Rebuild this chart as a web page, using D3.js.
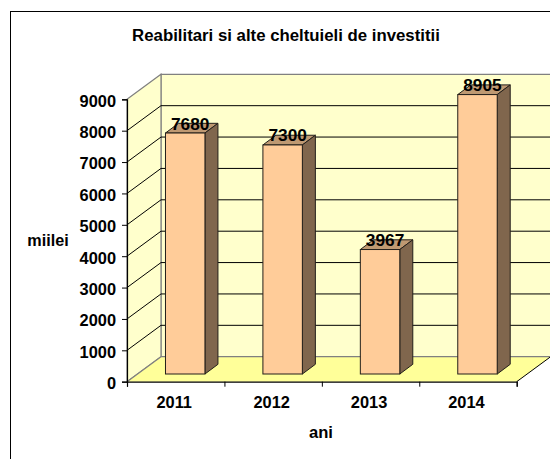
<!DOCTYPE html>
<html>
<head>
<meta charset="utf-8">
<script src="https://cdn.jsdelivr.net/npm/d3@7"></script>
<style>
  html, body { margin: 0; padding: 0; background: #fff; overflow: hidden; }
  text { font-family: "Liberation Sans", Arial, sans-serif; font-weight: bold; fill: #000; }
</style>
</head>
<body>
<div id="chart"></div>
<script>
const years = ["2011", "2012", "2013", "2014"];
const values = [7680, 7300, 3967, 8905];
const yTicks = [0, 1000, 2000, 3000, 4000, 5000, 6000, 7000, 8000, 9000];

const width = 550;
const height = 459;

const x0 = 127;
const x1 = 516.7;
const yBase = 381.7;
const yTop = 99.3;
const depthX = 34;
const depthY = -25;

// bars stand a bit inside the floor
const barShiftX = 10;
const barShiftY = -7.7;
const barDepthX = 13;
const barDepthY = -9.7;

const x = d3.scaleBand().domain(years).range([x0, x1]).paddingInner(0).paddingOuter(0);
const y = d3.scaleLinear().domain([0, 9000]).range([yBase, yTop]);
const barWidth = x.bandwidth() * 0.405;

const svg = d3
  .select("#chart")
  .append("svg")
  .attr("width", width)
  .attr("height", height)
  .style("display", "block");

svg
  .append("rect")
  .attr("x", 10.5)
  .attr("y", 11.5)
  .attr("width", width)
  .attr("height", height)
  .attr("fill", "#fff")
  .attr("stroke", "#000");

const pts = (arr) => arr.map((p) => p.join(",")).join(" ");

// back wall
svg
  .append("polygon")
  .attr("points", pts([
    [x0 + depthX, yTop + depthY],
    [x1 + depthX, yTop + depthY],
    [x1 + depthX, yBase + depthY],
    [x0 + depthX, yBase + depthY],
  ]))
  .attr("fill", "#ffffcc")
  .attr("stroke", "#808080")
  .attr("stroke-width", 1.2);

// side wall
svg
  .append("polygon")
  .attr("points", pts([
    [x0, yTop],
    [x0 + depthX, yTop + depthY],
    [x0 + depthX, yBase + depthY],
    [x0, yBase],
  ]))
  .attr("fill", "#ffffcc")
  .attr("stroke", "#808080")
  .attr("stroke-width", 1.2);

// floor
svg
  .append("polygon")
  .attr("points", pts([
    [x0, yBase],
    [x0 + depthX, yBase + depthY],
    [x1 + depthX, yBase + depthY],
    [x1, yBase],
  ]))
  .attr("fill", "#ffff99");

svg
  .append("line")
  .attr("x1", x0)
  .attr("y1", yBase)
  .attr("x2", x0 + depthX)
  .attr("y2", yBase + depthY)
  .attr("stroke", "#808080")
  .attr("stroke-width", 1.2);
svg
  .append("line")
  .attr("x1", x0 + depthX)
  .attr("y1", yBase + depthY)
  .attr("x2", x1 + depthX)
  .attr("y2", yBase + depthY)
  .attr("stroke", "#808080")
  .attr("stroke-width", 1.2);
svg
  .append("line")
  .attr("x1", x1)
  .attr("y1", yBase)
  .attr("x2", x1 + depthX)
  .attr("y2", yBase + depthY)
  .attr("stroke", "#000");

// gridlines on both walls
const grid = svg.append("g").attr("fill", "none").attr("stroke", "#000").attr("stroke-width", 1);
yTicks.slice(1, -1).forEach((t) => {
  grid
    .append("polyline")
    .attr("points", pts([
      [x0, y(t)],
      [x0 + depthX, y(t) + depthY],
      [x1 + depthX, y(t) + depthY],
    ]));
});

// bars
const bars = svg
  .append("g")
  .selectAll("g")
  .data(years.map((year, i) => ({ year, value: values[i] })))
  .join("g");

const barLeft = (d) => x(d.year) + (x.bandwidth() - barWidth) / 2 + barShiftX - 0.5;
const barTop = (d) => y(d.value) + barShiftY;
const barBottom = yBase + barShiftY;

bars
  .append("polygon")
  .attr("points", (d) => pts([
    [barLeft(d), barTop(d)],
    [barLeft(d) + barDepthX, barTop(d) + barDepthY],
    [barLeft(d) + barWidth + barDepthX, barTop(d) + barDepthY],
    [barLeft(d) + barWidth, barTop(d)],
  ]))
  .attr("fill", "#bf9972")
  .attr("stroke", "#231f1a")
  .attr("stroke-width", 1);

bars
  .append("polygon")
  .attr("points", (d) => pts([
    [barLeft(d) + barWidth, barTop(d)],
    [barLeft(d) + barWidth + barDepthX, barTop(d) + barDepthY],
    [barLeft(d) + barWidth + barDepthX, barBottom + barDepthY],
    [barLeft(d) + barWidth, barBottom],
  ]))
  .attr("fill", "#80664d")
  .attr("stroke", "#231f1a")
  .attr("stroke-width", 1);

bars
  .append("rect")
  .attr("x", barLeft)
  .attr("y", barTop)
  .attr("width", barWidth)
  .attr("height", (d) => barBottom - barTop(d))
  .attr("fill", "#ffcc99")
  .attr("stroke", "#231f1a")
  .attr("stroke-width", 1);

bars
  .append("text")
  .attr("x", (d) => barLeft(d) + barWidth / 2 + 5)
  .attr("y", (d) => barTop(d) - 3.5)
  .attr("text-anchor", "middle")
  .attr("font-size", 17.3)
  .text((d) => d.value);

// axes
const yAxis = svg
  .append("g")
  .attr("transform", `translate(${x0},0)`)
  .call(d3.axisLeft(y).tickValues(yTicks).tickSize(5).tickPadding(6).tickFormat(d3.format("d")));
yAxis.selectAll("text").attr("dy", "0.42em");

const edges = d3.scaleLinear().domain([0, years.length]).range([x0, x1]);
const xTicks = svg
  .append("g")
  .attr("transform", `translate(0,${yBase})`)
  .call(d3.axisBottom(edges).tickValues(d3.range(years.length + 1)).tickSize(5).tickFormat(""));

const xLabels = svg
  .append("g")
  .attr("transform", `translate(-1.5,${yBase})`)
  .call(d3.axisBottom(x).tickSize(0).tickPadding(15));
xLabels.select(".domain").remove();

[yAxis, xTicks, xLabels].forEach((g) => {
  g.attr("font-family", null).attr("font-size", null);
  g.selectAll("text").attr("font-size", 16.4);
  g.selectAll(".domain").attr("stroke", "#000").attr("stroke-width", 1.2);
  g.selectAll(".tick line").attr("stroke", "#000");
});

// titles
svg
  .append("text")
  .attr("x", 286)
  .attr("y", 41)
  .attr("text-anchor", "middle")
  .attr("font-size", 16.8)
  .text("Reabilitari si alte cheltuieli de investitii");

svg
  .append("text")
  .attr("x", 48)
  .attr("y", 246)
  .attr("text-anchor", "middle")
  .attr("font-size", 16.2)
  .text("miilei");

svg
  .append("text")
  .attr("x", 321)
  .attr("y", 438)
  .attr("text-anchor", "middle")
  .attr("font-size", 16.6)
  .text("ani");
</script>
</body>
</html>
